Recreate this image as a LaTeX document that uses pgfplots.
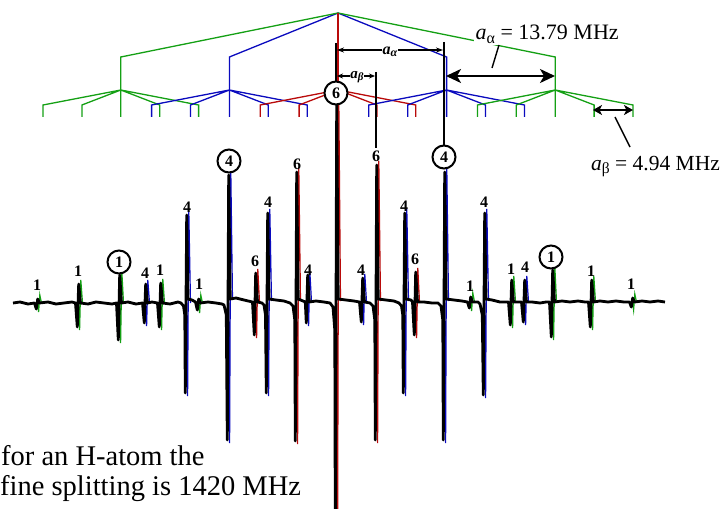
\documentclass[border=0pt]{standalone}
\usepackage{fontspec}
\setmainfont{Liberation Serif}
\usepackage{pgfplots}
\pgfplotsset{compat=1.18}
\usetikzlibrary{arrows.meta}
\definecolor{tg}{RGB}{20,160,20}
\definecolor{tb}{RGB}{10,10,190}
\definecolor{tr}{RGB}{185,10,10}
\tikzset{
  lab/.style={font=\fontsize{16bp}{16bp}\selectfont\bfseries, inner sep=0.5bp},
  circ/.style={draw, circle, line width=2bp, fill=white, minimum size=23bp, inner sep=0bp, font=\fontsize{16bp}{16bp}\selectfont\bfseries}}
\begin{document}
\begin{tikzpicture}
\useasboundingbox (0,0) rectangle (724bp,509bp);
\clip (0,0) rectangle (724bp,509bp);
\begin{axis}[at={(0,0)}, anchor=south west, scale only axis, width=724bp, height=509bp,
  xmin=0, xmax=724, ymin=0, ymax=509, y dir=reverse, hide axis, clip=false,
  unbounded coords=jump]

% ---------- splitting tree ----------
\addplot[tb, line width=1.3bp] coordinates {(229.4,90) (229.4,57) (338,13) (446.6,57) (446.6,90)};
\addplot[tg, line width=1.3bp] coordinates {(120.8,90) (120.8,57) (338,13) (555.2,57) (555.2,90)};
\addplot[tr, line width=1.3bp] coordinates {(338,13) (338,90)};
% second level: green left
\addplot[tg, line width=1.3bp] coordinates {(43.0,117) (43.0,105) (120.8,90) (198.6,105) (198.6,117) (nan,nan)
 (81.9,117) (81.9,105) (120.8,90) (159.7,105) (159.7,117) (nan,nan) (120.8,90) (120.8,117)};
% blue left
\addplot[tb, line width=1.3bp] coordinates {(151.6,117) (151.6,105) (229.4,90) (307.2,105) (307.2,117) (nan,nan)
 (190.5,117) (190.5,105) (229.4,90) (268.3,105) (268.3,117) (nan,nan) (229.4,90) (229.4,117)};
% red centre
\addplot[tr, line width=1.3bp] coordinates {(260.2,117) (260.2,105) (338,90) (415.8,105) (415.8,117) (nan,nan)
 (299.1,117) (299.1,105) (338,90) (376.9,105) (376.9,117) (nan,nan) (338,90) (338,117)};
% blue right
\addplot[tb, line width=1.3bp] coordinates {(368.8,117) (368.8,105) (446.6,90) (524.4,105) (524.4,117) (nan,nan)
 (407.7,117) (407.7,105) (446.6,90) (485.5,105) (485.5,117) (nan,nan) (446.6,90) (446.6,117)};
% green right
\addplot[tg, line width=1.3bp] coordinates {(477.4,117) (477.4,105) (555.2,90) (633.0,105) (633.0,117) (nan,nan)
 (516.3,117) (516.3,105) (555.2,90) (594.1,105) (594.1,117) (nan,nan) (555.2,90) (555.2,117)};

% ---------- simulated spectrum (coloured) ----------
\addplot[tg, line width=1.2bp] coordinates {
 (37.5,303) (38.6,312) (39.8,295) (41.5,303) (nan,nan)
 (78.5,303) (79.6,330) (80.8,280) (82.5,303) (nan,nan)
 (119.5,303) (120.6,343) (121.8,271) (123.5,303) (nan,nan)
 (160.5,303) (161.6,330) (162.8,279) (164.5,303) (nan,nan)
 (198.5,303) (199.6,313) (200.8,295) (202.5,303) (nan,nan)
 (470.5,302) (471.6,311) (472.8,293) (474.5,302) (nan,nan)
 (511.5,302) (512.6,328) (513.8,276) (515.5,302) (nan,nan)
 (552.5,302) (553.6,340) (554.8,266) (556.5,302) (nan,nan)
 (591.5,302) (592.6,330) (593.8,276) (595.5,302) (nan,nan)
 (632.5,302) (633.6,310) (634.8,294) (636.5,302)};
\addplot[tb, line width=1.2bp] coordinates {
 (145.5,303) (146.6,326) (147.8,280) (149.5,303) (nan,nan)
 (186.5,303) (187.6,396) (188.8,211) (190.5,303) (nan,nan)
 (228.5,303) (229.6,443) (230.8,171) (232.5,300) (nan,nan)
 (267.5,303) (268.6,396) (269.8,209) (271.5,301) (nan,nan)
 (307.5,303) (308.6,326) (309.8,271) (311.5,302) (nan,nan)
 (362.5,302) (363.6,325) (364.8,274) (366.5,302) (nan,nan)
 (404.5,303) (405.6,396) (406.8,209) (408.5,301) (nan,nan)
 (444.5,303) (445.6,443) (446.8,168) (448.5,301) (nan,nan)
 (484.5,303) (485.6,398) (486.8,209) (488.5,301) (nan,nan)
 (524.5,302) (525.6,325) (526.8,276) (528.5,302)};
\addplot[tr, line width=1.2bp] coordinates {
 (255.5,302) (256.6,338) (257.8,269) (259.5,302) (nan,nan)
 (296.5,303) (297.6,444) (298.8,168) (300.5,301) (nan,nan)
 (336.5,303) (337.6,530) (338.8,100) (340.5,301) (nan,nan)
 (376.5,303) (377.6,443) (378.8,161) (380.5,301) (nan,nan)
 (415.5,302) (416.6,338) (417.8,268) (419.5,302)};

% ---------- experimental spectrum (black) ----------
\addplot[black, line width=2.8bp, line join=round] coordinates {
 (13,303) (20,302) (28,304)
 (34.5,303) (36.3,309) (37.7,299) (39.5,303)
 (48,302) (56,304) (64,303) (72,302)
 (75.5,303) (77.3,327) (78.7,284) (80.5,303)
 (88,304) (96,302) (104,303) (112,304)
 (116.5,303) (118.3,340) (119.7,275) (121.5,303)
 (128,302) (136,304)
 (142.5,303) (144.3,323) (145.7,284) (147.5,303)
 (152,302)
 (157.5,303) (159.3,327) (160.7,283) (162.5,303)
 (170,304) (178,302)
 (181,303) (183.5,306) (184.8,315) (185.3,393) (186.7,215) (188,299) (192,300)
 (195.5,302) (197.3,310) (198.7,299) (200.5,303)
 (208,302) (216,303) (222,304)
 (224,305) (226.3,315) (227.3,440) (228.7,175) (230.2,299) (236,298) (244,300)
 (252.5,302) (254.3,335) (255.7,273) (257.5,302)
 (262,303)
 (264,305) (265.5,315) (266.3,393) (267.7,213) (269,299) (276,300) (284,301)
 (290,303) (293,306) (294.8,320) (295.3,441) (296.7,172) (298.2,299) (303,301)
 (305.3,302) (306.3,323) (307.7,275) (309.3,302)
 (316,301) (324,302)
 (330,303) (333,307) (334.8,330) (335.3,530) (336.7,104) (338.2,299) (346,300) (354,301)
 (359.5,302) (361.3,322) (362.7,278) (364.5,302)
 (370,303) (373,306) (374.8,320) (375.3,440) (376.7,165) (378.2,299) (386,300) (394,301)
 (399,303) (401.5,306) (402.8,315) (403.3,393) (404.7,213) (406,299) (411,300)
 (412.5,302) (414.3,335) (415.7,272) (417.5,302) (424,302) (432,303)
 (438,303) (441,306) (442.8,320) (443.3,440) (444.7,172) (446.2,299) (454,300) (462,301)
 (467.5,302) (469.3,308) (470.7,297) (472.5,302)
 (478,302)
 (480,304) (482.3,315) (483.3,395) (484.7,213) (486,299) (492,300) (500,302)
 (508.5,302) (510.3,325) (511.7,280) (513.5,302)
 (518,302)
 (521.5,302) (523.3,322) (524.7,280) (526.5,302)
 (532,302) (540,303) (546,302)
 (549.5,302) (551.3,337) (552.7,270) (554.5,302)
 (562,301) (570,302) (578,301) (585,302)
 (588.5,302) (590.3,327) (591.7,280) (593.5,302)
 (600,301) (608,302) (616,301) (624,302)
 (629.5,302) (631.3,307) (632.7,298) (634.5,302)
 (642,301) (650,302) (658,301) (665,302)};

% ---------- original black annotations ----------
\addplot[black, line width=2bp] coordinates {(336,43) (336,84)};
\addplot[black, line width=1.8bp] coordinates {(444,42) (444,147)};
\addplot[black, line width=1.8bp] coordinates {(376,72) (376,148)};
\addplot[black, line width=1.5bp, arrows={Stealth[length=7bp,width=5bp]-Stealth[length=7bp,width=5bp]}] coordinates {(337,50) (443,50)};
\addplot[black, line width=1.5bp, arrows={Stealth[length=6bp,width=5bp]-Stealth[length=6bp,width=5bp]}] coordinates {(337,76) (375,76)};
\node[fill=white, inner sep=1bp, font=\fontsize{16bp}{16bp}\selectfont\bfseries\itshape] at (axis cs:390,52) {a\raisebox{-0.3ex}{\fontsize{12bp}{12bp}\selectfont α}};
\node[fill=white, inner sep=0.5bp, font=\fontsize{15bp}{15bp}\selectfont\bfseries\itshape] at (axis cs:357,77) {a\raisebox{-0.3ex}{\fontsize{11bp}{11bp}\selectfont β}};

% circled numbers
\node[circ] at (axis cs:336,93) {6};
\node[circ] at (axis cs:229,161) {4};
\node[circ] at (axis cs:444,157) {4};
\node[circ] at (axis cs:119,262) {1};
\node[circ] at (axis cs:551,257) {1};
% plain numbers
\node[lab] at (axis cs:37,285) {1};
\node[lab] at (axis cs:78,271) {1};
\node[lab] at (axis cs:145,273) {4};
\node[lab] at (axis cs:160,270) {1};
\node[lab] at (axis cs:187,207) {4};
\node[lab] at (axis cs:199,284) {1};
\node[lab] at (axis cs:255,261) {6};
\node[lab] at (axis cs:268,202) {4};
\node[lab] at (axis cs:297,164) {6};
\node[lab] at (axis cs:308,270) {4};
\node[lab] at (axis cs:361,270) {4};
\node[lab] at (axis cs:376,156) {6};
\node[lab] at (axis cs:404,206) {4};
\node[lab] at (axis cs:415,259) {6};
\node[lab] at (axis cs:470,286) {1};
\node[lab] at (axis cs:484,202) {4};
\node[lab] at (axis cs:511,269) {1};
\node[lab] at (axis cs:525,267) {4};
\node[lab] at (axis cs:591,271) {1};
\node[lab] at (axis cs:631,284) {1};

% ---------- overlay annotations ----------
\node[anchor=base west, fill=white, inner sep=1.5bp, font=\fontsize{22bp}{22bp}\selectfont] at (axis cs:474,40)
  {\textit{a}\raisebox{-0.35ex}{\fontsize{16bp}{16bp}\selectfont α} = 13.79 MHz};
\addplot[black, line width=1.4bp] coordinates {(499,45) (492,68)};
\addplot[black, line width=2bp, arrows={Stealth[length=15bp,width=14bp,inset=4bp]-Stealth[length=15bp,width=14bp,inset=4bp]}] coordinates {(446,76) (555,76)};
\node[anchor=base west, inner sep=0bp, font=\fontsize{21.5bp}{21.5bp}\selectfont] at (axis cs:591,170)
  {\textit{a}\raisebox{-0.35ex}{\fontsize{15.5bp}{15.5bp}\selectfont β} = 4.94 MHz};
\addplot[black, line width=1.4bp] coordinates {(615,117) (630,147)};
\addplot[black, line width=1.8bp, arrows={Stealth[length=9bp,width=10bp,inset=2.5bp]-Stealth[length=9bp,width=10bp,inset=2.5bp]}] coordinates {(593,110) (633,110)};

% bottom text
\node[anchor=base west, inner sep=0bp, font=\fontsize{28.5bp}{28.5bp}\selectfont] at (axis cs:1,465) {for an H-atom the};
\node[anchor=base west, inner sep=0bp, font=\fontsize{28.5bp}{28.5bp}\selectfont] at (axis cs:0,495) {fine splitting is 1420 MHz};
\end{axis}
\end{tikzpicture}
\end{document}
